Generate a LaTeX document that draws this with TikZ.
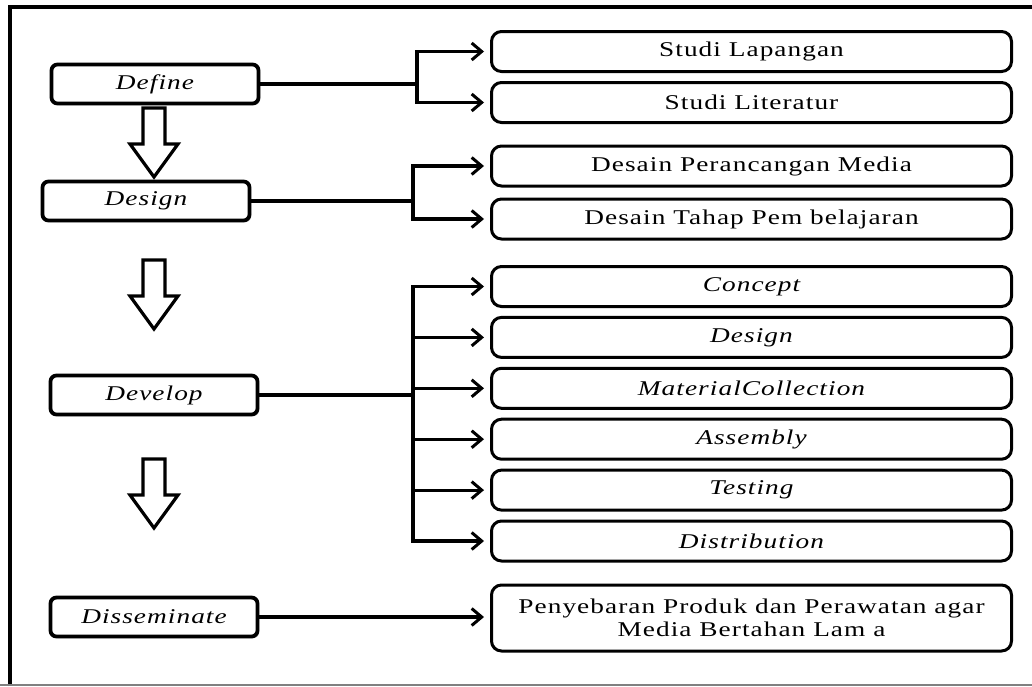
\documentclass[tikz,border=0pt]{standalone}
\usepackage{fontspec}
\newfontfamily\boxfont{Liberation Serif}[FakeStretch=1.3,LetterSpace=5]
\usetikzlibrary{arrows.meta,shadows}
\tikzset{stage/.style={draw,fill=white,line width=1.9pt,rounded corners=3pt,minimum width=103.5pt,minimum height=19.5pt,inner sep=0pt,
    drop shadow={shadow xshift=0.9pt,shadow yshift=-0.9pt,fill=gray!55},font=\boxfont\itshape\fontsize{10.5}{12}\selectfont},
  task/.style={draw,line width=1.5pt,rounded corners=5pt,minimum width=260pt,minimum height=20pt,inner sep=0pt,align=center,font=\boxfont\fontsize{10.5}{11.5}\selectfont},
  link/.style={line width=1.6pt},
  tip/.style={link,shorten >=3pt,-{Straight Barb[length=5pt,width=8.5pt,line width=1.5pt]}},
  hollow/.style={line width=1.6pt,line join=miter}}
\begin{document}
\begin{tikzpicture}[x=0.5pt,y=-0.5pt]
  \useasboundingbox (0,0) rectangle (1032,686);
  \draw[line width=1.7pt] (10,686) -- (10,7) -- (1032,7);
  \draw[gray,line width=1pt] (0,684.5) -- (1032,684.5);
  % stages
  \node[stage] (define) at (155,84) {Define};
  \node[stage] (design) at (146,201) {Design};
  \node[stage] (develop) at (154,395) {Develop};
  \node[stage] (dissem) at (154,617) {Disseminate};
  \foreach \top in {108,260,459}
    \draw[hollow] (143,\top) -- (165,\top) -- (165,\top+36) -- (178,\top+36) -- (154,\top+69) -- (130,\top+36) -- (143,\top+36) -- cycle;
  % tasks
  \node[task] (lapangan) at (751.5,51.5) {Studi Lapangan};
  \node[task] (literatur) at (751.5,102.5) {Studi Literatur};
  \node[task] (media) at (751.5,166) {Desain Perancangan Media};
  \node[task] (tahap) at (751.5,219) {Desain Tahap Pem belajaran};
  \foreach \name/\txt [count=\i from 0] in {concept/Concept,ddesign/Design,material/MaterialCollection,assembly/Assembly,testing/Testing,distrib/Distribution}
    \node[task,font=\boxfont\itshape\fontsize{10.5}{12}\selectfont] (\name) at (751.5,{286.5+50.9*\i}) {\txt};
  \node[task,minimum height=33pt] (sebar) at (751.5,618) {Penyebaran Produk dan Perawatan agar\\Media Bertahan Lam a};
  % connectors
  \coordinate (j1) at (417,0);
  \coordinate (j2) at (413,0);
  \foreach \t in {lapangan,literatur}
    \draw[tip] (define.east) -- (define.east -| j1) |- (\t.west);
  \foreach \t in {media,tahap}
    \draw[tip] (design.east) -- (design.east -| j2) |- (\t.west);
  \foreach \t in {concept,ddesign,material,assembly,testing,distrib}
    \draw[tip] (develop.east) -- (develop.east -| j2) |- (\t.west);
  \draw[tip] (dissem.east) -- (dissem.east -| sebar.west);
\end{tikzpicture}
\end{document}
